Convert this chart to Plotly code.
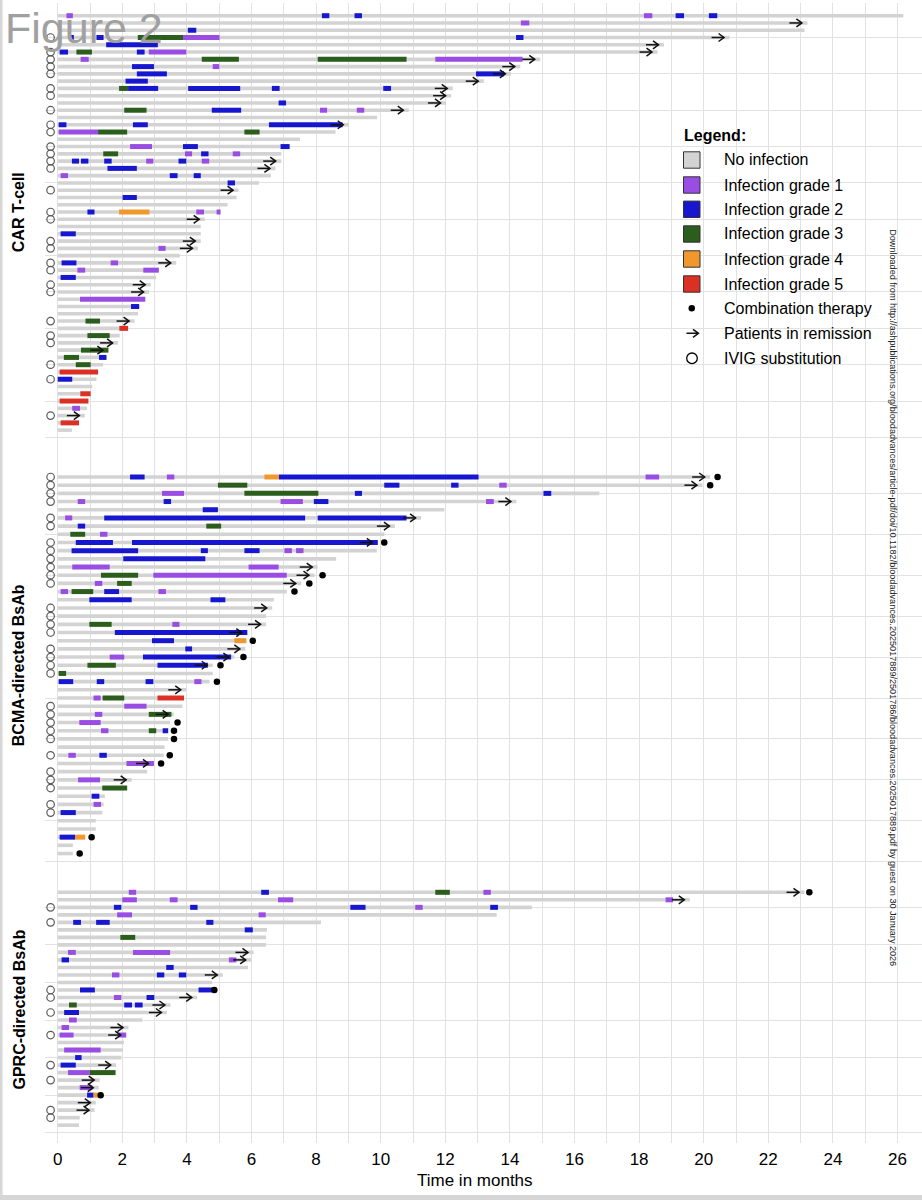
import plotly.graph_objects as go

# ---- data (time in months, rows listed top to bottom) ----

# CAR T-cell cohort
cart_end = [26.18, 23.21, 23.12, 20.80, 18.77, 18.57, 14.94, 14.32, 14.03, 13.19,
            12.23, 12.18, 12.02, 10.87, 9.89, 9.01, 8.60, 7.50, 7.18, 6.92,
            6.92, 6.74, 6.60, 6.23, 5.60, 5.54, 5.26, 5.04, 4.55, 4.43,
            4.43, 4.43, 4.34, 3.78, 3.67, 3.13, 3.05, 2.88, 2.83, 2.71,
            2.54, 2.49, 2.38, 2.18, 1.92, 1.87, 1.57, 1.51, 1.40, 1.25,
            1.20, 1.07, 1.02, 0.95, 0.91, 0.84, 0.66, 0.44]
cart_inf = [
    [(0.27, 0.47, 1), (8.18, 8.41, 2), (9.19, 9.42, 2), (18.15, 18.41, 1), (19.13, 19.39, 2), (20.16, 20.42, 2)],
    [(14.34, 14.60, 1)],
    [(4.03, 4.29, 2)],
    [(0.35, 0.50, 2), (1.20, 1.42, 2), (2.48, 3.88, 3), (3.88, 5.01, 1), (14.19, 14.42, 2)],
    [(1.50, 3.10, 2)],
    [(0.06, 0.32, 2), (0.58, 1.06, 3), (2.45, 2.69, 2), (2.82, 3.98, 1)],
    [(0.71, 0.96, 1), (4.46, 5.61, 3), (8.05, 10.80, 3), (11.69, 14.39, 1)],
    [(2.30, 2.98, 2), (4.80, 5.00, 1)],
    [(2.45, 3.38, 2), (12.95, 13.82, 2)],
    [(2.10, 2.79, 2)],
    [(1.90, 2.18, 3), (2.18, 3.11, 2), (4.04, 5.65, 2), (6.63, 6.87, 2), (10.08, 10.32, 2)],
    [],
    [(6.84, 7.07, 2)],
    [(2.06, 2.75, 3), (4.77, 5.68, 2), (8.12, 8.34, 1), (9.26, 9.49, 1)],
    [],
    [(0.03, 0.27, 2), (2.33, 2.79, 2), (6.54, 8.82, 2)],
    [(0.03, 1.25, 1), (1.25, 2.15, 3), (5.78, 6.25, 3)],
    [],
    [(2.24, 2.92, 1), (3.88, 4.34, 2), (6.90, 7.18, 2)],
    [(1.41, 1.87, 3), (3.94, 4.16, 1), (4.44, 4.67, 2), (5.42, 5.65, 1)],
    [(0.44, 0.66, 2), (0.72, 0.95, 2), (1.44, 1.67, 2), (2.74, 2.96, 1), (3.74, 3.98, 2), (4.46, 4.69, 1)],
    [(1.54, 2.45, 2)],
    [(0.09, 0.32, 1), (3.47, 3.71, 2), (4.21, 4.43, 2)],
    [(5.26, 5.49, 2)],
    [],
    [(2.01, 2.45, 2)],
    [],
    [(0.92, 1.14, 2), (1.90, 2.84, 4), (4.29, 4.53, 1), (4.92, 5.04, 1)],
    [],
    [],
    [(0.09, 0.56, 2)],
    [],
    [(3.12, 3.34, 1)],
    [],
    [(0.12, 0.58, 2), (1.64, 1.87, 1)],
    [(0.61, 0.85, 1), (2.65, 3.13, 1)],
    [(0.09, 0.56, 2)],
    [],
    [],
    [(0.69, 2.71, 1)],
    [(2.27, 2.52, 2)],
    [],
    [(0.86, 1.31, 3)],
    [(1.91, 2.18, 5)],
    [(0.92, 1.61, 3)],
    [],
    [(0.72, 1.57, 3)],
    [(0.19, 0.66, 3), (1.28, 1.51, 2)],
    [(0.56, 1.02, 3)],
    [(0.06, 1.25, 5)],
    [(0.00, 0.45, 2)],
    [],
    [(0.70, 1.02, 5)],
    [(0.06, 0.95, 5)],
    [(0.45, 0.69, 1)],
    [],
    [(0.09, 0.66, 5)],
    [],
]
cart_remission = [2, 4, 5, 6, 7, 8, 9, 10, 11, 12, 13, 14, 16, 21, 22, 25, 29, 32, 33,
                  35, 38, 39, 43, 46, 47, 56]
cart_ivig = [4, 6, 7, 8, 9, 11, 12, 14, 16, 17, 19, 20, 21, 22, 25, 28, 29, 32, 33, 35,
             36, 38, 39, 43, 45, 46, 49, 51, 56]
cart_combo = {}

# BCMA-directed BsAb cohort
bcma_end = [20.20, 19.96, 16.77, 14.20, 11.97, 11.25, 10.44, 10.11, 9.91, 9.88,
            8.62, 8.05, 7.95, 7.54, 7.09, 6.69, 6.64, 6.45, 6.45, 5.87,
            5.84, 5.81, 5.47, 4.80, 4.80, 4.70, 3.98, 3.91, 3.86, 3.59,
            3.48, 3.42, 3.42, 3.31, 3.28, 2.98, 2.77, 2.29, 2.15, 1.46,
            1.42, 1.38, 1.18, 1.18, 0.85, 0.47, 0.47]
bcma_inf = [
    [(2.24, 2.69, 2), (3.38, 3.61, 1), (6.40, 6.85, 4), (6.85, 13.03, 2), (18.20, 18.62, 1)],
    [(4.96, 5.87, 3), (10.11, 10.58, 2), (12.18, 12.41, 2), (13.67, 13.90, 1)],
    [(3.23, 3.91, 1), (5.78, 8.07, 3), (9.20, 9.42, 2), (15.04, 15.28, 2)],
    [(0.62, 0.85, 1), (3.28, 3.51, 2), (6.90, 7.59, 1), (7.93, 8.38, 2), (13.26, 13.50, 1)],
    [(4.49, 4.96, 2)],
    [(0.23, 0.45, 1), (1.44, 7.66, 2), (8.05, 10.80, 2)],
    [(0.62, 0.85, 2), (4.60, 5.06, 3)],
    [(0.39, 0.85, 3), (1.31, 1.54, 1)],
    [(0.56, 1.71, 2), (2.30, 9.91, 2)],
    [(0.43, 2.49, 2), (4.43, 4.65, 2), (5.78, 6.25, 2), (7.02, 7.25, 1), (7.38, 7.61, 1)],
    [(2.03, 4.57, 2)],
    [(0.45, 1.61, 1), (5.91, 6.84, 1)],
    [(1.34, 2.49, 3), (2.96, 7.09, 1)],
    [(1.15, 1.38, 1), (1.84, 2.29, 3)],
    [(0.09, 0.32, 1), (0.43, 1.10, 3), (1.44, 1.90, 2), (3.12, 3.35, 1)],
    [(0.98, 2.29, 2), (4.73, 5.19, 2)],
    [],
    [],
    [(0.98, 1.67, 3), (3.55, 3.77, 1)],
    [(1.77, 5.87, 2)],
    [(2.92, 3.60, 2), (5.47, 5.84, 4)],
    [(3.95, 4.16, 2)],
    [(1.61, 2.06, 1), (2.64, 5.37, 2)],
    [(0.92, 1.80, 3), (3.09, 4.65, 2)],
    [(0.03, 0.26, 3)],
    [(0.03, 0.48, 2), (1.21, 1.44, 2), (2.72, 2.96, 2), (4.23, 4.45, 1)],
    [],
    [(1.11, 1.33, 1), (1.39, 2.06, 3), (3.09, 3.91, 5)],
    [(2.06, 2.75, 1)],
    [(1.15, 1.38, 1), (2.82, 3.52, 3)],
    [(0.67, 1.33, 1)],
    [(1.34, 1.57, 1), (2.82, 3.05, 3), (3.25, 3.42, 2)],
    [],
    [],
    [(0.33, 0.56, 1), (1.29, 1.52, 2)],
    [(2.13, 2.98, 1)],
    [],
    [(0.63, 1.31, 1)],
    [(1.38, 2.15, 3)],
    [(1.05, 1.29, 2)],
    [(1.11, 1.34, 1)],
    [(0.09, 0.56, 2)],
    [],
    [],
    [(0.06, 0.54, 2), (0.54, 0.85, 4)],
    [],
    [],
]
bcma_remission = [1, 2, 4, 6, 7, 9, 12, 13, 14, 17, 19, 20, 22, 23, 24, 27, 30, 36, 38]
bcma_ivig = [1, 2, 3, 4, 6, 7, 9, 10, 11, 12, 13, 14, 17, 18, 19, 20, 22, 23, 24, 25,
             29, 30, 31, 32, 33, 35, 37, 38, 39, 41, 42]
bcma_combo = {1: 20.43, 2: 20.20, 9: 10.11, 13: 8.20, 14: 7.79, 15: 7.33, 21: 6.04,
              23: 5.75, 24: 5.04, 26: 4.93, 31: 3.71, 32: 3.60, 33: 3.60, 35: 3.47,
              36: 3.20, 45: 1.05, 47: 0.68}

# GPRC-directed BsAb cohort
gprc_end = [23.12, 19.57, 14.68, 13.59, 8.15, 6.48, 6.45, 6.45, 6.06, 5.99,
            5.89, 5.11, 4.78, 4.82, 4.32, 3.49, 3.38, 2.62, 2.19, 2.12,
            2.05, 2.02, 1.97, 1.81, 1.79, 1.30, 1.27, 1.30, 1.18, 1.14,
            0.68, 0.66]
gprc_inf = [
    [(2.20, 2.43, 1), (6.30, 6.54, 2), (11.69, 12.14, 3), (13.18, 13.41, 1)],
    [(2.00, 2.45, 1), (3.47, 3.71, 1), (6.82, 7.29, 1), (18.82, 19.05, 1)],
    [(1.74, 1.97, 2), (4.10, 4.33, 2), (9.06, 9.53, 2), (11.07, 11.30, 1), (13.39, 13.63, 2)],
    [(1.84, 2.30, 1), (6.22, 6.44, 1)],
    [(0.48, 0.72, 2), (1.19, 1.61, 2), (4.60, 4.82, 2)],
    [(5.79, 6.04, 2)],
    [(1.94, 2.40, 3)],
    [],
    [(0.32, 0.56, 1), (2.33, 3.48, 1)],
    [(0.12, 0.35, 2), (5.30, 5.53, 1)],
    [(3.36, 3.59, 2)],
    [(1.68, 1.91, 1), (3.07, 3.30, 2), (3.75, 3.98, 2)],
    [],
    [(0.69, 1.15, 2), (4.36, 4.82, 2)],
    [(1.74, 1.97, 1), (2.75, 2.99, 2)],
    [(0.35, 0.59, 3), (2.06, 2.30, 2), (2.39, 2.63, 2)],
    [(0.20, 0.66, 2)],
    [(0.35, 0.59, 1)],
    [(0.12, 0.35, 1)],
    [(0.06, 0.49, 1), (1.87, 2.12, 1)],
    [],
    [(0.20, 1.33, 1)],
    [(0.54, 0.74, 2)],
    [(0.09, 0.56, 2)],
    [(0.32, 0.99, 1), (0.99, 1.79, 3)],
    [],
    [(0.68, 1.07, 1)],
    [(0.91, 1.11, 2), (1.11, 1.30, 4)],
    [],
    [],
    [],
    [],
]
gprc_remission = [1, 2, 9, 10, 12, 15, 16, 17, 19, 20, 24, 26, 27, 29, 30]
gprc_ivig = [3, 5, 14, 15, 17, 20, 24, 26, 30, 31]
gprc_combo = {1: 23.27, 14: 4.85, 28: 1.33}

cohort_names = ["CAR T-cell", "BCMA-directed BsAb", "GPRC-directed BsAb"]
legend_labels = ["No infection", "Infection grade 1", "Infection grade 2", "Infection grade 3",
                 "Infection grade 4", "Infection grade 5", "Combination therapy",
                 "Patients in remission", "IVIG substitution"]
x_ticks = list(range(0, 27, 2))

# ---- styling / geometry ----
GREY = "#D3D3D3"
GRADE_COLORS = {1: "#9A4DE3", 2: "#1717D0", 3: "#2B5E1C", 4: "#F0972E", 5: "#DB3124"}
FONT = "Liberation Sans"
W, H = 922, 1200
L, R, T, B = 45, 0, 3, 57
PW, PH = W - L - R, H - T - B
PX_PER_MONTH = 32.3
X0_PX = 57.7  # pixel of month 0


def px_x(px):
    return (px - L) / PW


def px_y(py):
    return 1 - (py - T) / PH


def add_cohort(fig, ends, infections, remission, ivig, combo, yaxis, row_px):
    n = len(ends)
    ys = [n - i for i in range(n)]

    # follow-up bars
    gx, gy = [], []
    for end, y in zip(ends, ys):
        gx += [0, end, None]
        gy += [y, y, None]
    fig.add_trace(go.Scatter(x=gx, y=gy, mode="lines", yaxis=yaxis, showlegend=False,
                             line=dict(color=GREY, width=3.6), hoverinfo="skip"))

    # infection episodes by grade
    for grade, color in GRADE_COLORS.items():
        ix, iy = [], []
        for segs, y in zip(infections, ys):
            for s, e, g in segs:
                if g == grade:
                    ix += [s, e, None]
                    iy += [y, y, None]
        if ix:
            fig.add_trace(go.Scatter(x=ix, y=iy, mode="lines", yaxis=yaxis, showlegend=False,
                                     line=dict(color=color, width=5), hoverinfo="skip"))

    # remission arrows (shaft + open head), tip slightly before end of bar
    ax, ay = [], []
    head_h = 4.0 / row_px
    shaft = 12.5 / PX_PER_MONTH
    head_l = 5.5 / PX_PER_MONTH
    for r in remission:
        y = ys[r - 1]
        tip = ends[r - 1] - 0.17
        ax += [tip - shaft, tip, None, tip - head_l, tip, tip - head_l, None]
        ay += [y, y, None, y + head_h, y, y - head_h, None]
    fig.add_trace(go.Scatter(x=ax, y=ay, mode="lines", yaxis=yaxis, showlegend=False,
                             line=dict(color="#111111", width=1.5), hoverinfo="skip"))

    # combination therapy dots
    if combo:
        fig.add_trace(go.Scatter(x=list(combo.values()), y=[ys[r - 1] for r in combo],
                                 mode="markers", yaxis=yaxis, showlegend=False,
                                 marker=dict(color="black", size=6.5), hoverinfo="skip"))

    # IVIG circles left of time zero
    fig.add_trace(go.Scatter(x=[-0.22] * len(ivig), y=[ys[r - 1] for r in ivig],
                             mode="markers", yaxis=yaxis, showlegend=False,
                             marker=dict(symbol="circle-open", color="#5A5A5A", size=7.5,
                                         line=dict(width=1.2)),
                             hoverinfo="skip"))


def main():
    fig = go.Figure()

    # panel boundaries in pixels -> paper domains
    d1 = px_y(865)
    d2 = px_y(440)
    add_cohort(fig, gprc_end, gprc_inf, gprc_remission, gprc_ivig, gprc_combo, "y", 7.5125)
    add_cohort(fig, bcma_end, bcma_inf, bcma_remission, bcma_ivig, bcma_combo, "y2", 8.185)
    add_cohort(fig, cart_end, cart_inf, cart_remission, cart_ivig, cart_combo, "y3", 7.271)

    grid = "#E2E2E2"
    yax = dict(showticklabels=False, zeroline=False, showline=False, gridcolor=grid,
               gridwidth=1, ticks="", anchor="x")
    x_lo = (L - X0_PX) / PX_PER_MONTH
    x_hi = (W - R - X0_PX) / PX_PER_MONTH

    fig.update_layout(
        width=W, height=H,
        margin=dict(l=L, r=R, t=T, b=B, autoexpand=False),
        paper_bgcolor="white", plot_bgcolor="white",
        font=dict(family=FONT, color="black"),
        showlegend=False,
        xaxis=dict(range=[x_lo, x_hi], tickvals=x_ticks, ticktext=[str(v) for v in x_ticks],
                   showgrid=True, gridcolor=grid, gridwidth=1, zeroline=False,
                   showline=False, ticks="", tickfont=dict(size=17, family=FONT, color="black"),
                   ticklabelstandoff=4,
                   minor=dict(dtick=1, showgrid=True, gridcolor=grid, gridwidth=1),
                   anchor="y"),
        yaxis=dict(domain=[0, d1], range=[-1.371, 35.634], tickvals=list(range(0, 31, 5)), **yax),
        yaxis2=dict(domain=[d1, d2], range=[-0.403, 51.52], tickvals=list(range(0, 46, 5)), **yax),
        yaxis3=dict(domain=[d2, 1], range=[-0.358, 59.747], tickvals=list(range(0, 56, 5)), **yax),
    )

    ann = []
    # cohort labels on the left
    for name, cy in zip(cohort_names, [212.7, 665.7, 1010]):
        ann.append(dict(text=f"<b>{name}</b>", x=px_x(18.5), y=px_y(cy), xref="paper", yref="paper",
                        textangle=-90, showarrow=False, font=dict(size=16, family=FONT, color="black"),
                        xanchor="center", yanchor="middle"))
    # axis title
    ann.append(dict(text="Time in months", x=px_x(475), y=px_y(1180.7), xref="paper", yref="paper",
                    showarrow=False, font=dict(size=17, family=FONT, color="black"),
                    xanchor="center", yanchor="middle"))
    # figure tag
    ann.append(dict(text="Figure 2", x=px_x(3), y=px_y(28), xref="paper", yref="paper",
                    showarrow=False, font=dict(size=43, family=FONT, color="#A0A0A0"),
                    xanchor="left", yanchor="middle"))
    # download watermark
    ann.append(dict(text="Downloaded from http://ashpublications.org/bloodadvances/article-pdf/doi/10.1182/"
                         "bloodadvances.2025017889/2501786/bloodadvances.2025017889.pdf by guest on 30 January 2026",
                    x=px_x(893.3), y=px_y(597.5), xref="paper", yref="paper", textangle=90,
                    showarrow=False, font=dict(size=9.1, family=FONT, color="#222222"),
                    xanchor="center", yanchor="middle"))

    # manual legend
    shapes = []
    ann.append(dict(text="<b>Legend:</b>", x=px_x(681.7), y=px_y(135.7), xref="paper", yref="paper",
                    showarrow=False, font=dict(size=16, family=FONT, color="black"),
                    xanchor="left", yanchor="middle"))
    leg_y = [160, 185, 209.3, 234, 259, 284, 308.3, 333.3, 358.3]
    swatches = [GREY] + [GRADE_COLORS[g] for g in range(1, 6)]
    for label, ly in zip(legend_labels, leg_y):
        ann.append(dict(text=label, x=px_x(722.3), y=px_y(ly), xref="paper", yref="paper",
                        showarrow=False, font=dict(size=16, family=FONT, color="black"),
                        xanchor="left", yanchor="middle"))
    for color, ly in zip(swatches, leg_y):
        shapes.append(dict(type="rect", xref="paper", yref="paper",
                           x0=px_x(683.5), x1=px_x(700), y0=px_y(ly + 8.2), y1=px_y(ly - 8.2),
                           fillcolor=color, line=dict(color="#333333", width=1)))
    dy = leg_y[6]
    shapes.append(dict(type="circle", xref="paper", yref="paper", x0=px_x(688.5), x1=px_x(695),
                       y0=px_y(dy + 3.25), y1=px_y(dy - 3.25), fillcolor="black", line=dict(width=0)))
    ay = leg_y[7]
    shapes.append(dict(type="path", xref="paper", yref="paper",
                       path=(f"M {px_x(686.5)},{px_y(ay)} L {px_x(698.5)},{px_y(ay)} "
                             f"M {px_x(693)},{px_y(ay - 4)} L {px_x(698.5)},{px_y(ay)} L {px_x(693)},{px_y(ay + 4)}"),
                       line=dict(color="#111111", width=1.5)))
    cy = leg_y[8]
    shapes.append(dict(type="circle", xref="paper", yref="paper", x0=px_x(686.7), x1=px_x(697.3),
                       y0=px_y(cy + 5.3), y1=px_y(cy - 5.3), line=dict(color="black", width=1.3)))

    # grey page frame (left edge and bottom band)
    shapes.append(dict(type="rect", xref="paper", yref="paper", x0=px_x(0), x1=px_x(2.5),
                       y0=px_y(1200), y1=px_y(0), fillcolor="#D6D6D6", line=dict(width=0)))
    shapes.append(dict(type="rect", xref="paper", yref="paper", x0=px_x(0), x1=px_x(922),
                       y0=px_y(1200), y1=px_y(1195), fillcolor="#D6D6D6", line=dict(width=0)))

    fig.update_layout(annotations=ann, shapes=shapes)
    # drop the browser's default 8px body margin so the figure sits at the page origin
    fig.write_html("out.html", config={"displayModeBar": False},
                   post_script="document.body.style.margin='0px';")


if __name__ == "__main__":
    main()
